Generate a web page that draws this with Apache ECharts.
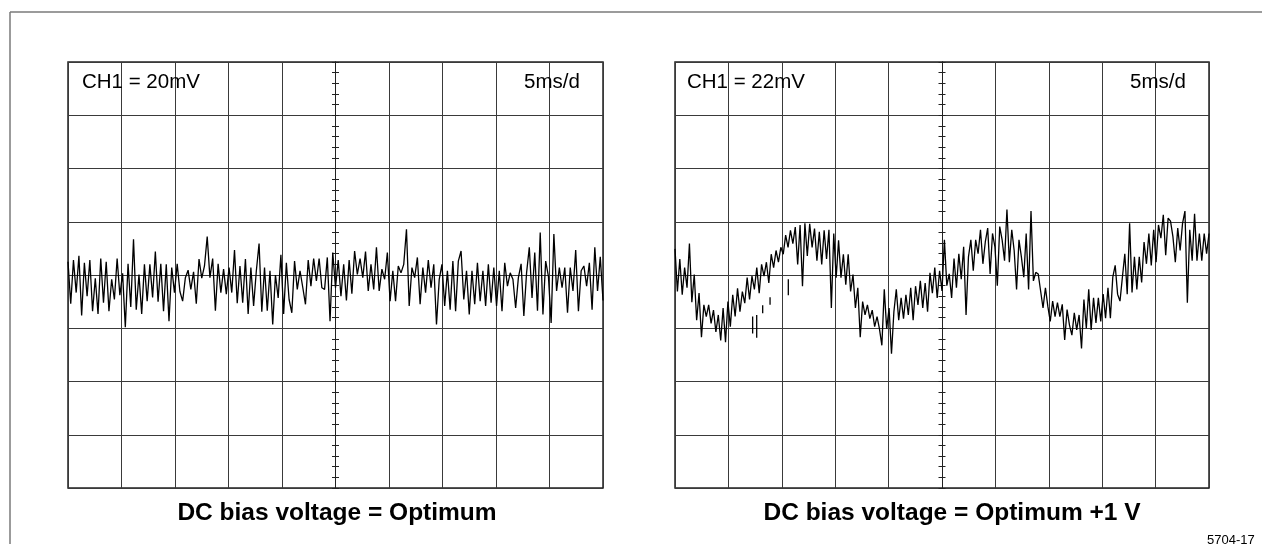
<!DOCTYPE html>
<html><head><meta charset="utf-8">
<script src="https://cdn.jsdelivr.net/npm/echarts@6/dist/echarts.min.js"></script>
<style>html,body{margin:0;padding:0;background:#fff}#c{width:1262px;height:544px}</style>
</head><body><div id="c"></div>
<script>
// Trace values in vertical divisions (left: 20 mV/div, right: 22 mV/div), 5 ms/div, 10 divisions
const leftTrace = [0.25,-0.54,0.28,-0.33,0.36,-0.76,0.23,-0.40,0.28,-0.68,-0.06,-0.73,0.31,-0.52,0.25,-0.68,-0.08,-0.46,0.31,-0.38,0.03,-0.98,0.21,-0.60,0.67,-0.65,0.01,-0.73,0.20,-0.49,0.20,-0.42,0.44,-0.50,0.21,-0.68,0.20,-0.87,0.14,-0.33,0.21,-0.31,-0.49,-0.05,0.09,-0.27,0.06,-0.54,0.30,-0.06,0.17,0.72,-0.05,0.31,-0.67,0.21,-0.33,0.11,-0.36,0.14,-0.33,0.47,-0.53,0.17,-0.52,0.30,-0.73,0.14,-0.58,0.08,0.59,-0.69,0.14,-0.67,0.08,-0.93,0.00,-0.43,0.38,-0.73,0.23,-0.46,-0.71,0.26,-0.27,0.08,-0.23,-0.55,0.28,-0.21,0.31,-0.11,0.31,-0.24,
-0.27,0.33,-0.87,0.42,-0.24,0.28,-0.40,0.20,-0.48,0.28,-0.35,0.45,0.01,0.31,-0.05,0.44,-0.30,0.20,-0.27,0.52,-0.30,0.11,-0.08,0.42,-0.49,0.08,-0.49,0.17,0.04,0.20,0.86,-0.58,0.14,-0.05,0.33,-0.55,0.14,-0.33,0.28,-0.24,0.20,-0.93,-0.08,0.20,-0.58,0.08,-0.65,0.26,-0.68,0.26,0.45,-0.46,0.08,-0.74,0.08,-0.55,0.23,-0.49,0.08,-0.58,0.20,-0.52,0.14,-0.58,0.08,-0.68,0.23,-0.21,0.04,-0.08,-0.62,-0.05,0.21,-0.77,0.04,0.52,-0.43,0.42,-0.67,0.80,-0.74,0.26,-0.02,-0.90,0.77,-0.30,0.14,-0.24,0.14,-0.71,0.14,-0.30,0.47,-0.68,0.08,0.17,-0.21,0.23,-0.65,0.52,-0.30,0.34,-0.48];
const rightTrace = [0.49,-0.31,0.30,-0.37,0.14,-0.24,0.59,-0.51,0.01,-0.85,-0.34,-1.17,-0.56,-0.78,-0.56,-0.91,-0.66,-1.07,-0.75,-1.23,-0.62,-1.26,-0.50,-0.97,-0.37,-0.78,-0.25,-0.69,-0.31,-0.53,-0.05,-0.46,-0.02,-0.27,0.14,-0.34,0.20,-0.02,0.24,-0.15,0.39,0.14,0.46,0.24,0.52,0.39,0.75,0.52,0.84,0.59,0.90,0.20,0.94,-0.21,0.97,0.36,0.96,0.52,0.87,0.27,0.81,0.20,0.84,0.30,0.85,-0.62,0.78,-0.05,0.65,-0.05,0.39,-0.18,0.39,-0.31,0.01,-0.62,-0.24,-1.17,-0.50,-0.75,-0.56,-0.82,-0.66,-0.97,-0.78,-1.01,-1.32,-0.27,-1.01,-0.62,-1.48,-0.69,-0.27,-0.85,-0.43,-0.82,-0.37,-0.75,-0.24,-0.85,-0.21,-0.56,-0.11,-0.62,-0.15,-0.69,0.04,-0.34,0.14,-0.43,0.08,
-0.30,0.66,-0.20,0.02,-0.43,0.31,-0.24,0.40,-0.08,0.53,-0.75,0.34,0.66,0.08,0.66,0.40,0.85,0.21,0.62,0.88,0.02,0.78,0.53,-0.20,0.91,0.66,0.27,1.23,0.24,0.85,0.46,-0.27,0.66,0.34,-0.04,0.78,-0.27,1.20,-0.11,0.05,0.02,-0.30,-0.62,-0.24,-0.59,-0.87,-0.49,-0.78,-0.52,-0.78,-0.55,-1.22,-0.65,-0.94,-1.13,-0.71,-1.03,-0.75,-1.38,-0.46,-1.00,-0.27,-1.03,-0.43,-0.90,-0.43,-0.87,-0.36,-0.81,-0.24,-0.81,-0.04,0.18,-0.36,-0.49,-0.04,0.40,-0.36,0.97,-0.33,0.34,-0.27,0.34,-0.14,0.62,0.21,0.78,0.18,0.85,0.24,0.94,0.69,1.13,0.37,1.07,1.01,0.72,0.24,0.88,0.46,0.97,1.20,-0.52,0.85,0.27,1.15,0.27,0.78,0.27,0.78,0.40,0.78];
// Stray trace fragments on the right screen: [time ms, from div, to div]
const rightDashes = [[7.27,-0.78,-1.10],[7.65,-0.75,-1.18],[8.21,-0.57,-0.72],[8.90,-0.42,-0.56],[10.61,-0.08,-0.38]];
const channelLabels = ['CH1 = 20mV', 'CH1 = 22mV'];
const timebaseLabel = '5ms/d';
const captions = ['DC bias voltage = Optimum', 'DC bias voltage = Optimum +1 V'];
const figureId = '5704-17';

const panels = [
  {left: 68, top: 62, width: 535, height: 426},
  {left: 675, top: 62, width: 534, height: 426}
];
const traces = [leftTrace, rightTrace];
const FONT = '"Liberation Sans", Arial, Helvetica, sans-serif';
const gridColor = '#3a3a3a';

const chart = echarts.init(document.getElementById('c'), null, {renderer: 'canvas'});
const grid = [], xAxis = [], yAxis = [], series = [];
panels.forEach((p, gi) => {
  grid.push({left: p.left, top: p.top, width: p.width, height: p.height, show: true,
    borderColor: '#222', borderWidth: 1.5, backgroundColor: '#fff'});
  // time axis (ms) for the graticule
  xAxis.push({gridIndex: gi, type: 'value', min: 0, max: 50, interval: 5,
    axisLine: {show: false}, axisTick: {show: false}, axisLabel: {show: false},
    splitLine: {show: true, lineStyle: {color: gridColor, width: 1}}});
  // sample axis for the trace
  xAxis.push({gridIndex: gi, type: 'category', boundaryGap: false, show: false,
    data: traces[gi].map((_, i) => i)});
  const base = yAxis.length;
  yAxis.push({gridIndex: gi, type: 'value', min: -4, max: 4, interval: 1,
    axisLine: {show: false}, axisTick: {show: false}, axisLabel: {show: false},
    splitLine: {show: true, lineStyle: {color: gridColor, width: 1}}});
  [true, false].forEach(inside => {
    yAxis.push({gridIndex: gi, type: 'value', min: -4, max: 4, interval: 1,
      position: 'left', offset: -p.width / 2,
      axisLine: {show: true, lineStyle: {color: '#222', width: 1}},
      axisTick: {show: true, inside: inside, length: 3.5, lineStyle: {color: '#222', width: 1}},
      minorTick: {show: true, splitNumber: 5, length: 3.5, lineStyle: {color: '#222', width: 1}},
      axisLabel: {show: false}, splitLine: {show: false}});
  });
  series.push({type: 'line', xAxisIndex: gi * 2 + 1, yAxisIndex: base, data: traces[gi],
    showSymbol: false, symbol: 'none', z: 5,
    lineStyle: {color: '#000', width: 1.3}, animation: false});
});
rightDashes.forEach(d => {
  series.push({type: 'line', xAxisIndex: 2, yAxisIndex: 3, data: [[d[0], d[1]], [d[0], d[2]]],
    symbol: 'none', z: 5, lineStyle: {color: '#000', width: 1.3}, animation: false});
});

const textEl = (txt, x, y, size, weight, align) => ({type: 'text', x: x, y: y, z: 10,
  style: {text: txt, font: weight + ' ' + size + 'px ' + FONT, fill: '#000', align: align, verticalAlign: 'middle'}});

const graphic = [
  {type: 'line', shape: {x1: 10, y1: 12, x2: 1262, y2: 12}, style: {stroke: '#7a7a7a', lineWidth: 1.5}},
  {type: 'line', shape: {x1: 10, y1: 12, x2: 10, y2: 544}, style: {stroke: '#7a7a7a', lineWidth: 1.5}},
  textEl(channelLabels[0], 82, 82, 20.5, 'normal', 'left'),
  textEl(timebaseLabel, 524, 82, 20.5, 'normal', 'left'),
  textEl(channelLabels[1], 687, 82, 20.5, 'normal', 'left'),
  textEl(timebaseLabel, 1130, 82, 20.5, 'normal', 'left'),
  textEl(captions[0], 337, 513, 24.5, 'bold', 'center'),
  textEl(captions[1], 952, 513, 24.5, 'bold', 'center'),
  textEl(figureId, 1207, 540, 13, 'normal', 'left')
];

chart.setOption({animation: false, backgroundColor: '#fff', grid, xAxis, yAxis, series, graphic});
</script></body></html>
